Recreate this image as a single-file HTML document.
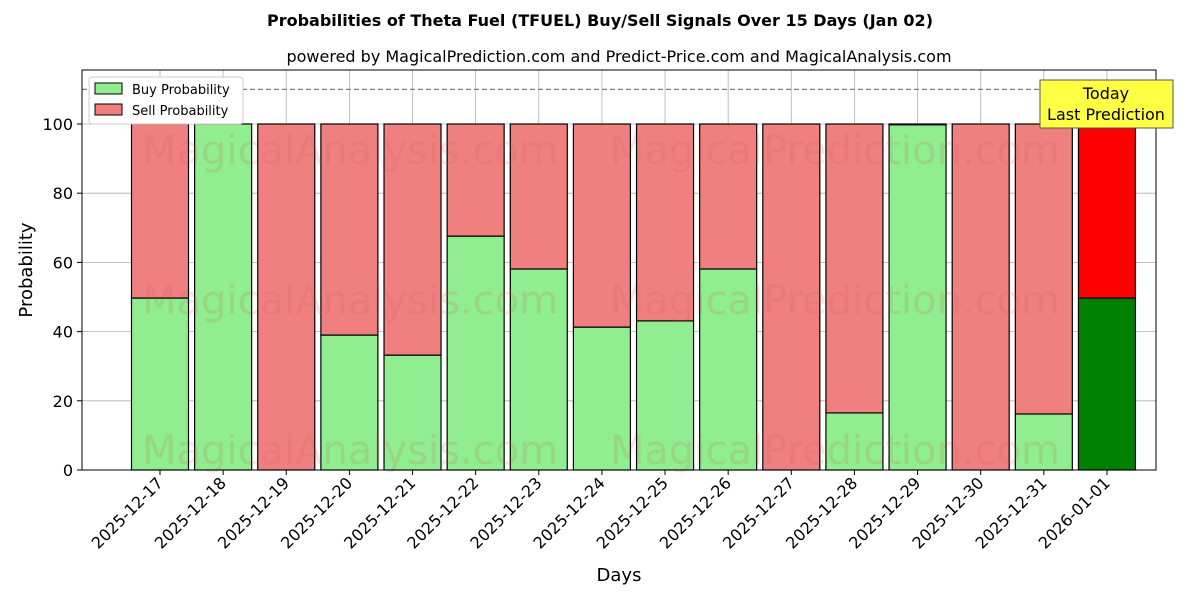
<!DOCTYPE html>
<html><head><meta charset="utf-8"><style>
body{margin:0;background:#fff;font-family:"Liberation Sans","DejaVu Sans",sans-serif}
</style></head><body>
<svg id="chart" width="1200" height="600" xmlns="http://www.w3.org/2000/svg" font-family="DejaVu Sans, Liberation Sans, sans-serif"></svg>
<script>
const days=["2025-12-17","2025-12-18","2025-12-19","2025-12-20","2025-12-21","2025-12-22","2025-12-23","2025-12-24","2025-12-25","2025-12-26","2025-12-27","2025-12-28","2025-12-29","2025-12-30","2025-12-31","2026-01-01"];
const buy=[49.7,100,0,39,33.2,67.6,58.1,41.3,43.1,58.1,0,16.5,99.8,0,16.2,49.7];
const yTicks=[0,20,40,60,80,100];
const svg=document.getElementById('chart');
const NS="http://www.w3.org/2000/svg";
const L=82,R=1156,T=70,B=470;
const xs=i=>160+i*63.13;
const ys=v=>B-v*3.46;
function mk(tag,attrs,txt){const e=document.createElementNS(NS,tag);for(const k in attrs)e.setAttribute(k,attrs[k]);if(txt!==undefined)e.textContent=txt;svg.appendChild(e);return e;}
let e;
e=mk('rect',{x:0,y:0,width:1200,height:600,fill:'#fff'});

// grid
yTicks.forEach(v=>{e=mk('line',{x1:L,x2:R,y1:ys(v),y2:ys(v),stroke:'#b0b0b0','stroke-width':0.8});
});
days.forEach((d,i)=>{e=mk('line',{x1:xs(i),x2:xs(i),y1:T,y2:B,stroke:'#b0b0b0','stroke-width':0.8});
});
// bars
const bw=57;
days.forEach((d,i)=>{
 const last=i===days.length-1;
 const x=xs(i)-bw/2;
 e=mk('rect',{x:x,y:ys(buy[i]),width:bw,height:ys(0)-ys(buy[i]),fill:last?'#008000':'#90ee90',stroke:'#000','stroke-width':1.2});
 
 e=mk('rect',{x:x,y:ys(100),width:bw,height:ys(buy[i])-ys(100),fill:last?'#ff0000':'#f08080',stroke:'#000','stroke-width':1.2});
 
});
// watermarks
[[350,150],[835,150],[350,300],[835,300],[350,450],[835,450]].forEach(p=>{
 e=mk('text',{x:p[0],y:p[1]+14,'font-size':40,fill:'rgba(200,80,80,0.15)','text-anchor':'middle'},p[0]<500?'MagicalAnalysis.com':'MagicalPrediction.com');
 });
// dashed line
e=mk('line',{x1:L,x2:R,y1:ys(110),y2:ys(110),stroke:'#808080','stroke-width':1.2,'stroke-dasharray':'5,3'});

// axes frame
e=mk('rect',{x:L,y:T,width:R-L,height:B-T,fill:'none',stroke:'#000','stroke-width':1});

// y ticks
yTicks.forEach(v=>{
 e=mk('line',{x1:L-5,x2:L,y1:ys(v),y2:ys(v),stroke:'#000'});
 
 e=mk('text',{x:L-9,y:ys(v)+6,'font-size':16,'text-anchor':'end'},v);
 
});
// x ticks
days.forEach((d,i)=>{
 e=mk('line',{x1:xs(i),x2:xs(i),y1:B,y2:B+5,stroke:'#000'});
 
 e=mk('text',{x:xs(i)+4,y:B+14,'font-size':16,'text-anchor':'end',transform:`rotate(-45 ${xs(i)+4} ${B+14})`},d);
 
});
// titles
e=mk('text',{x:600,y:26,'font-size':16,'font-weight':'bold','text-anchor':'middle'},'Probabilities of Theta Fuel (TFUEL) Buy/Sell Signals Over 15 Days (Jan 02)');

e=mk('text',{x:619,y:62,'font-size':16,'text-anchor':'middle'},'powered by MagicalPrediction.com and Predict-Price.com and MagicalAnalysis.com');

e=mk('text',{x:619,y:581,'font-size':18,'text-anchor':'middle'},'Days');

e=mk('text',{x:32,y:270,'font-size':18,'text-anchor':'middle',transform:'rotate(-90 32 270)'},'Probability');

// legend
e=mk('rect',{x:89,y:77,width:154,height:47,fill:'#fff',stroke:'#ccc',rx:3});

e=mk('rect',{x:95,y:83,width:27,height:11,fill:'#90ee90',stroke:'#000'});

e=mk('text',{x:132,y:94,'font-size':13},'Buy Probability');

e=mk('rect',{x:95,y:104,width:27,height:11,fill:'#f08080',stroke:'#000'});

e=mk('text',{x:132,y:115,'font-size':13},'Sell Probability');

// annotation
e=mk('rect',{x:1040,y:80,width:133,height:48,fill:'#ffff44',stroke:'#555'});

e=mk('text',{x:1106,y:99,'font-size':16,'text-anchor':'middle'},'Today');

e=mk('text',{x:1106,y:120,'font-size':16,'text-anchor':'middle'},'Last Prediction');

</script>
</body></html>
